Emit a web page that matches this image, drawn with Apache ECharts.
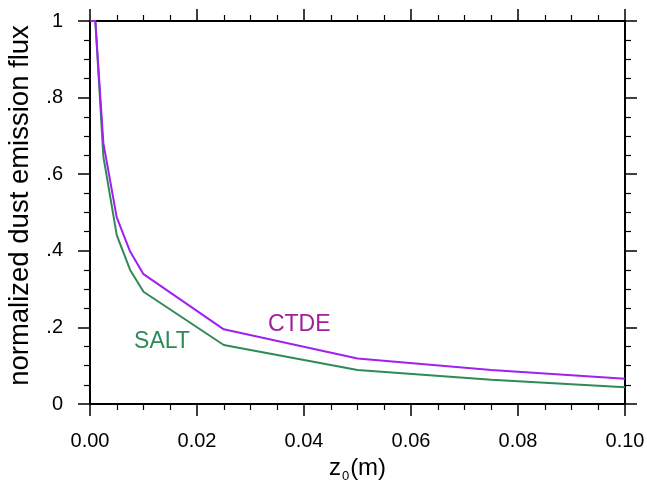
<!DOCTYPE html>
<html>
<head>
<meta charset="utf-8">
<script src="https://cdn.jsdelivr.net/npm/echarts@6/dist/echarts.min.js"></script>
<style>html,body{margin:0;padding:0;background:#fff}#c{width:647px;height:484px}</style>
</head>
<body>
<div id="c"></div>
<script>
var z0 = [0.0001, 0.001, 0.0025, 0.005, 0.0075, 0.01, 0.025, 0.05, 0.075, 0.1];
var ctde = [1, 1, 0.681, 0.487, 0.398, 0.339, 0.195, 0.119, 0.089, 0.066];
var salt = [1, 1, 0.646, 0.441, 0.350, 0.293, 0.154, 0.089, 0.063, 0.044];
var xTicks = [0, 0.02, 0.04, 0.06, 0.08, 0.10];
var yTickLabels = {0: '0', 0.2: '.2', 0.4: '.4', 0.6: '.6', 0.8: '.8', 1: '1'};
var annoCTDE = [0.0391, 0.206];
var annoSALT = [0.01346, 0.162];

var FONT = '"Liberation Sans", Arial, Helvetica, sans-serif';
function pairs(xs, ys) { return xs.map(function (x, i) { return [x, ys[i]]; }); }

var tickStyle = { show: true, inside: false, length: 12, lineStyle: { color: '#000', width: 1.5 } };
var minorStyle = { show: true, splitNumber: 4, length: 6, lineStyle: { color: '#000', width: 1.2 } };
var lineStyleAxis = { show: true, onZero: false, lineStyle: { color: '#000', width: 2 } };

var chart = echarts.init(document.getElementById('c'), null, { renderer: 'canvas' });
chart.setOption({
  animation: false,
  backgroundColor: '#fff',
  grid: { left: 90, right: 22, top: 21, bottom: 80, containLabel: false, outerBoundsMode: 'none' },
  xAxis: [{
    type: 'value', position: 'bottom', min: 0, max: 0.1, interval: 0.02,
    axisLine: lineStyleAxis, axisTick: tickStyle, minorTick: minorStyle,
    splitLine: { show: false },
    axisLabel: { margin: 27, color: '#000', fontSize: 20, fontFamily: FONT,
      formatter: function (v) { return v.toFixed(2); } },
    name: '{z|z}{s|0}{z|(m)}', nameLocation: 'middle', nameGap: 51,
    nameTextStyle: { rich: {
      z: { fontSize: 24, fontFamily: FONT, color: '#000' },
      s: { fontSize: 13, fontFamily: FONT, color: '#000', verticalAlign: 'bottom', padding: [0, 1, -3, 1] }
    } }
  }, {
    type: 'value', position: 'top', min: 0, max: 0.1, interval: 0.02,
    axisLine: lineStyleAxis, axisTick: tickStyle, minorTick: minorStyle,
    splitLine: { show: false }, axisLabel: { show: false }
  }],
  yAxis: [{
    type: 'value', position: 'left', min: 0, max: 1, interval: 0.2,
    axisLine: lineStyleAxis, axisTick: tickStyle, minorTick: minorStyle,
    splitLine: { show: false },
    axisLabel: { margin: 27, color: '#000', fontSize: 20, fontFamily: FONT,
      formatter: function (v) { var k = Math.round(v * 10) / 10; return yTickLabels[k]; } },
    name: 'normalized dust emission flux', nameLocation: 'middle', nameGap: 56,
    nameTextStyle: { fontSize: 27.5, fontFamily: FONT, color: '#000', padding: [0, 0, 0, 14] }
  }, {
    type: 'value', position: 'right', min: 0, max: 1, interval: 0.2,
    axisLine: lineStyleAxis, axisTick: tickStyle, minorTick: minorStyle,
    splitLine: { show: false }, axisLabel: { show: false }
  }],
  series: [{
    type: 'line', name: 'SALT', data: pairs(z0, salt), showSymbol: false, symbol: 'none',
    lineStyle: { color: '#2E8B57', width: 2 }, clip: false, z: 2,
    markPoint: { symbol: 'circle', symbolSize: 0, data: [{ coord: annoSALT, value: 'SALT' }],
      label: { show: true, position: 'inside', formatter: 'SALT', color: '#2E8B57', fontSize: 23, fontFamily: FONT } }
  }, {
    type: 'line', name: 'CTDE', data: pairs(z0, ctde), showSymbol: false, symbol: 'none',
    lineStyle: { color: '#A020F0', width: 2 }, clip: false, z: 3,
    markPoint: { symbol: 'circle', symbolSize: 0, data: [{ coord: annoCTDE, value: 'CTDE' }],
      label: { show: true, position: 'inside', formatter: 'CTDE', color: '#A0209C', fontSize: 23, fontFamily: FONT } }
  }]
});
</script>
</body>
</html>
